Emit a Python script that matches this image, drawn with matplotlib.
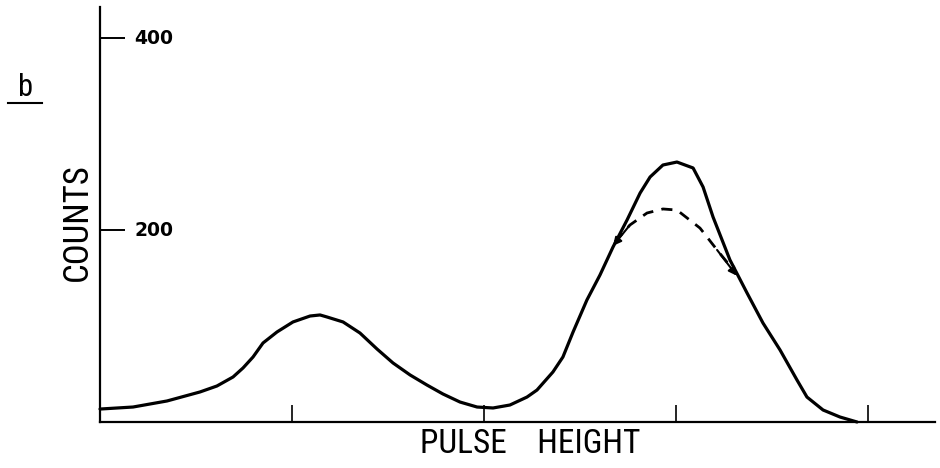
import matplotlib
matplotlib.use('Agg')
import matplotlib.pyplot as plt

# pulse height spectrum (x in tick units, y in counts)
pulse = [0.000, 0.172, 0.349, 0.521, 0.609, 0.693, 0.745, 0.797, 0.849, 0.922,
         1.005, 1.094, 1.146, 1.182, 1.266, 1.354, 1.443, 1.526, 1.615, 1.703,
         1.786, 1.875, 1.964, 2.047, 2.135, 2.224, 2.276, 2.359, 2.411, 2.464,
         2.536, 2.604, 2.672, 2.745, 2.813, 2.865, 2.932, 3.005, 3.089, 3.141,
         3.193, 3.281, 3.370, 3.453, 3.542, 3.630, 3.682, 3.766, 3.854, 3.943]
counts = [13.5, 15.6, 21.9, 31.3, 37.5, 46.9, 56.3, 67.7, 82.3, 93.8,
          104.2, 110.4, 111.5, 109.4, 104.2, 92.7, 76.0, 61.5, 49.0, 38.5,
          29.2, 20.8, 15.6, 14.6, 17.7, 26.0, 33.3, 52.1, 67.7, 93.8,
          127.1, 153.1, 182.3, 210.4, 238.5, 255.2, 267.7, 270.8, 264.6, 244.8,
          213.5, 168.8, 134.4, 103.1, 75.0, 43.8, 26.0, 12.5, 5.2, 0.0]

# dashed (resolved) peak
dash_x = [2.682, 2.760, 2.849, 2.932, 3.005, 3.125, 3.214, 3.307]
dash_y = [187.5, 205.2, 217.7, 221.9, 220.8, 202.0, 179.2, 156.3]

yticks = [200, 400]
xticks = [1, 2, 3, 4]

fig = plt.figure(figsize=(9.4, 4.68), dpi=100)
ax = fig.add_axes([100 / 940, 46 / 468, 835 / 940, 415 / 468])
ax.set_xlim(0, 835 / 192)
ax.set_ylim(0, 415 * 200 / 192)

ax.plot(pulse, counts, color='black', lw=2.3, solid_joinstyle='round',
        solid_capstyle='round', clip_on=False)
ax.plot(dash_x, dash_y, color='black', lw=2.0, dashes=(4, 3))
# little arrow heads where the dashed curve meets the solid one
ax.annotate('', xy=(dash_x[0] - 0.01, dash_y[0] - 4), xytext=(dash_x[1], dash_y[1]),
            arrowprops=dict(arrowstyle='-|>', color='black', lw=1.5,
                            mutation_scale=12, shrinkA=0, shrinkB=0))
ax.annotate('', xy=(dash_x[-1] + 0.01, dash_y[-1] - 4), xytext=(dash_x[-2], dash_y[-2]),
            arrowprops=dict(arrowstyle='-|>', color='black', lw=1.5,
                            mutation_scale=12, shrinkA=0, shrinkB=0))

for s in ['top', 'right']:
    ax.spines[s].set_visible(False)
for s in ['left', 'bottom']:
    ax.spines[s].set_linewidth(1.6)

ax.set_xticks(xticks)
ax.set_xticklabels([])
ax.tick_params(axis='x', direction='in', length=12, width=1.2)
ax.set_yticks(yticks)
ax.set_yticklabels([])
ax.tick_params(axis='y', direction='in', length=18, width=1.4)

for v in yticks:
    ax.text(0.18, v, str(v), fontsize=13.5, fontweight='bold', va='center', ha='left')

narrow = ['Roboto Condensed', 'Liberation Sans Narrow', 'DejaVu Sans']
ax.set_xlabel('PULSE    HEIGHT', fontsize=24, family=narrow)
ax.xaxis.set_label_coords(430 / 835, -0.015)
fig.text(77 / 940, 1 - 222 / 468, 'COUNTS', rotation=90, fontsize=25, family=narrow,
         ha='center', va='center')
fig.text(25 / 940, 1 - 88 / 468, 'b', fontsize=22, family=narrow, ha='center', va='center')
fig.add_artist(plt.Line2D([8 / 940, 42 / 940], [1 - 103 / 468, 1 - 103 / 468],
                          color='black', lw=1.5))

fig.savefig('out.png', dpi=100, facecolor='white')
